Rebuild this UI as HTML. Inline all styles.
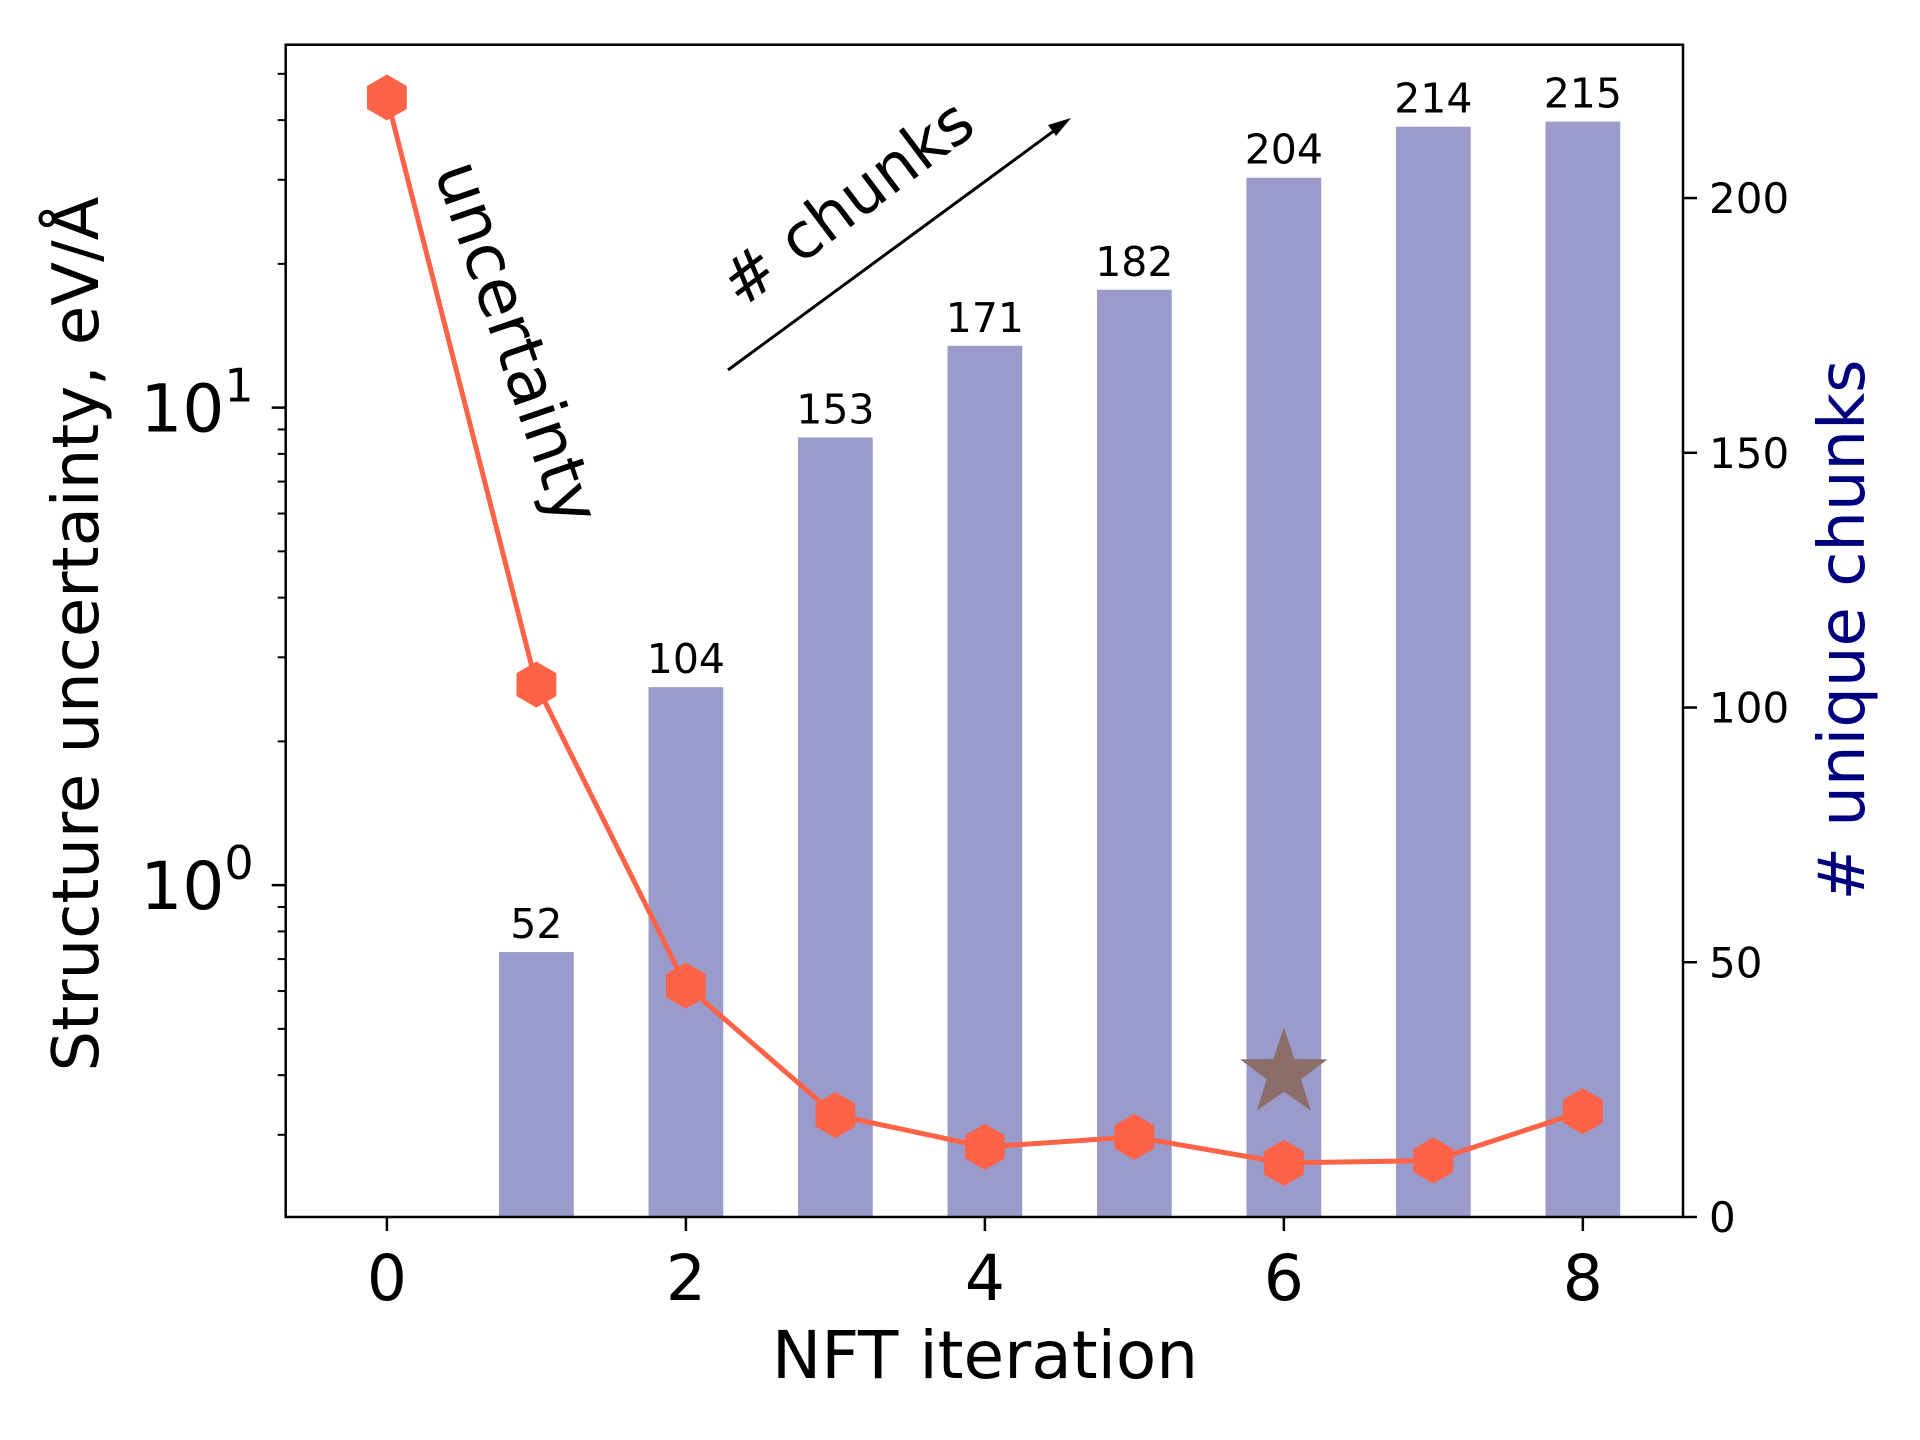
<!DOCTYPE html>
<html><head><meta charset="utf-8"><style>
html,body{margin:0;padding:0;background:#fff;}
svg{display:block;font-family:"DejaVu Sans","Liberation Sans",sans-serif;}
</style></head><body>
<svg id="chart" width="1920" height="1440" viewBox="0 0 1920 1440" xmlns="http://www.w3.org/2000/svg"></svg>
<script>
const iterations = [0,1,2,3,4,5,6,7,8];
const uncertainty = [44.6, 2.63, 0.616, 0.330, 0.283, 0.297, 0.262, 0.265, 0.336];
const barIters = [1,2,3,4,5,6,7,8];
const chunks = [52,104,153,171,182,204,214,215];
const xTicks = [0,2,4,6,8];
const rightTicks = [0,50,100,150,200];
const starIter = [6];
const starVal = [0.403];

const L=285.7,R=1683,T=44.7,B=1217;
const xmin=-0.677,xmax=8.67;
const ylogMin=-0.695,ylogMax=1.760;
const y2max=230.1;
const X=v=>L+(v-xmin)/(xmax-xmin)*(R-L);
const Y=v=>B-(Math.log10(v)-ylogMin)/(ylogMax-ylogMin)*(B-T);
const Y2=v=>B-v/y2max*(B-T);
const svg=document.getElementById('chart');
const NS='http://www.w3.org/2000/svg';
function mk(tag,attrs,parent){const e=document.createElementNS(NS,tag);for(const k in attrs)e.setAttribute(k,attrs[k]);(parent||svg).appendChild(e);return e;}

// bars
barIters.forEach((it,i)=>{
  const r=mk('rect',{x:X(it-0.25),y:Y2(chunks[i]),width:X(it+0.25)-X(it-0.25),height:B-Y2(chunks[i]),fill:'#9a9acb'});
  
  
  const t=mk('text',{x:X(it),y:Y2(chunks[i])-14,'text-anchor':'middle','font-size':'41',fill:'#000'});
  t.textContent=chunks[i];
  
  
});

// line
const pts=iterations.map((it,i)=>X(it)+','+Y(uncertainty[i])).join(' ');
const pl=mk('polyline',{points:pts,fill:'none',stroke:'#ff6347','stroke-width':5});


iterations.forEach((it,i)=>{
  const cx=X(it),cy=Y(uncertainty[i]),r=23;
  let p=[];for(let k=0;k<6;k++){const a=Math.PI/180*(60*k-90);p.push((cx+r*Math.cos(a)).toFixed(1)+','+(cy+r*Math.sin(a)).toFixed(1));}
  const h=mk('polygon',{points:p.join(' '),fill:'#ff6347'});
  
  
});
// star
starIter.forEach((it,i)=>{
  const cx=X(it),cy=Y(starVal[i]),ro=46,ri=18;
  let p=[];for(let k=0;k<10;k++){const r=k%2?ri:ro;const a=Math.PI/180*(36*k-90);p.push((cx+r*Math.cos(a)).toFixed(1)+','+(cy+r*Math.sin(a)).toFixed(1));}
  const s=mk('polygon',{points:p.join(' '),fill:'#8c6d6a'});
  
  
});

// axes frame
const fr=mk('rect',{x:L,y:T,width:R-L,height:B-T,fill:'none',stroke:'#000','stroke-width':2.5});



// x ticks
xTicks.forEach(v=>{
  mk('line',{x1:X(v),x2:X(v),y1:B,y2:B+14,stroke:'#000','stroke-width':2.5});
  const t=mk('text',{x:X(v),y:B+83,'text-anchor':'middle','font-size':'63'});
  t.textContent=v;
  
  
});
// left log ticks
for(let d=-1;d<=1;d++){for(let m=1;m<10;m++){const v=m*Math.pow(10,d);const lv=Math.log10(v);if(lv<ylogMin||lv>ylogMax)continue;
  mk('line',{x1:L,x2:L-(m===1?14:8),y1:Y(v),y2:Y(v),stroke:'#000','stroke-width':m===1?2.5:2});}}
[[1,'1'],[0,'0']].forEach(([e,s])=>{
  const t=mk('text',{x:L-32,y:Y(Math.pow(10,e))+24,'text-anchor':'end','font-size':'66'});
  t.innerHTML='10<tspan dy="-30" font-size="46">'+s+'</tspan>';
  
  
});
// right ticks
rightTicks.forEach(v=>{
  mk('line',{x1:R,x2:R+14,y1:Y2(v),y2:Y2(v),stroke:'#000','stroke-width':2.5});
  const t=mk('text',{x:R+26,y:Y2(v)+15,'font-size':'42'});
  t.textContent=v;
  
  
});

// labels
let t=mk('text',{x:985,y:1378,'text-anchor':'middle','font-size':'66'});t.textContent='NFT iteration';


t=mk('text',{x:0,y:0,'text-anchor':'middle','font-size':'64',transform:'translate(98,634) rotate(-90)'});t.textContent='Structure uncertainty, eV/Å';


t=mk('text',{x:0,y:0,'text-anchor':'middle','font-size':'64',fill:'#00007f',transform:'translate(1864,630) rotate(-90)'});t.textContent='# unique chunks';


t=mk('text',{x:0,y:0,'text-anchor':'middle','font-size':'66',transform:'translate(496,350) rotate(71)'});t.textContent='uncertainty';


t=mk('text',{x:0,y:0,'text-anchor':'middle','font-size':'63',transform:'translate(860,220) rotate(-37)'});t.textContent='# chunks';


const ar=mk('line',{x1:728,y1:370,x2:1066,y2:122,stroke:'#000','stroke-width':3});


const ah=mk('polygon',{points:'1071,118 1048,125 1056,136',fill:'#000'});


</script>
</body></html>
